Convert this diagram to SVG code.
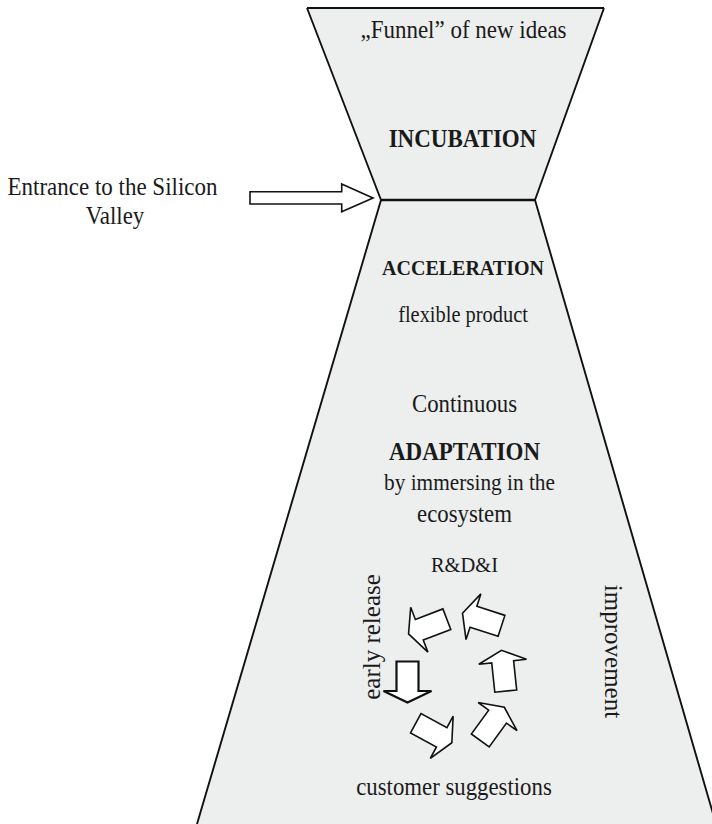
<svg xmlns="http://www.w3.org/2000/svg" width="712" height="824" viewBox="0 0 712 824">
<style>
.t{font-family:"Liberation Serif","Times New Roman",serif;fill:#1a1a1a;text-anchor:middle}
.b{font-weight:bold}
.edge{fill:none;stroke:#111;stroke-width:1.9}
.cyc{fill:#fff;stroke:#111;stroke-width:1.6;stroke-linejoin:miter}
</style>
<defs>
<path id="arr" d="M-11,-20.5 L11,-20.5 L11,9 L24,9 L0,20.5 L-24,9 L-11,9 Z"/>
</defs>
<rect width="712" height="824" fill="#fff"/>
<g id="funnel">
<polygon points="307,8 604,8 535,200 381,200" fill="#edeeee"/>
<polygon points="381,200 535,200 718,830 195,830" fill="#edeeee"/>
<path class="edge" d="M307,8 L604,8 M307,8 L381,200 M604,8 L535,200"/>
<path class="edge" d="M381,200 L197,824 M535,200 L716,824"/>
<path d="M381,200 L535,200" stroke="#111" stroke-width="2.4" fill="none"/>
</g>
<g id="incubation">
<text class="t" transform="translate(463.5,38) scale(1,1.1)" font-size="23">„Funnel” of new ideas</text>
<text class="t b" transform="translate(462.5,147) scale(1,1.1)" font-size="23">INCUBATION</text>
</g>
<g id="entrance">
<text class="t" transform="translate(112.5,195) scale(1,1.1)" font-size="23">Entrance to the Silicon</text>
<text class="t" transform="translate(115,224) scale(1,1.1)" font-size="23">Valley</text>
</g>
<g id="acceleration">
<text class="t b" transform="translate(463,275) scale(1,1.1)" font-size="20">ACCELERATION</text>
<text class="t" transform="translate(463,322) scale(1,1.1)" font-size="20.4">flexible product</text>
</g>
<g id="adaptation">
<text class="t" transform="translate(464.5,412) scale(1,1.1)" font-size="22.8">Continuous</text>
<text class="t b" transform="translate(464.5,460) scale(1,1.1)" font-size="23">ADAPTATION</text>
<text class="t" transform="translate(469.5,490) scale(1,1.1)" font-size="21.3">by immersing in the</text>
<text class="t" transform="translate(464.5,522) scale(1,1.1)" font-size="22.8">ecosystem</text>
</g>
<g id="rdi">
<text class="t" transform="translate(464.5,572) scale(1,1.05)" font-size="20.5">R&amp;D&amp;I</text>
<text class="t" transform="translate(380,637) rotate(-90)" font-size="25">early release</text>
<text class="t" transform="translate(605,651.5) rotate(90)" font-size="25">improvement</text>
<text class="t" transform="translate(454,795) scale(1,1.1)" font-size="22.8">customer suggestions</text>
</g>
<g id="connectors">
<polygon points="250,191.7 341.7,191.7 341.7,184 373,198 341.7,211.7 341.7,204 250,204" fill="#fff" stroke="#111" stroke-width="1.6"/>
<use href="#arr" class="cyc" transform="translate(427.7,626.5) rotate(69)"/>
<use href="#arr" class="cyc" transform="translate(482,619.5) rotate(108)"/>
<use href="#arr" class="cyc" transform="translate(503.6,670.7) rotate(174)"/>
<use href="#arr" class="cyc" transform="translate(492.3,723.9) rotate(216)"/>
<use href="#arr" class="cyc" transform="translate(433.8,733) rotate(-61.6)"/>
<use href="#arr" class="cyc" transform="translate(407.5,682)" style="stroke-width:2.2"/>
</g>
</svg>
